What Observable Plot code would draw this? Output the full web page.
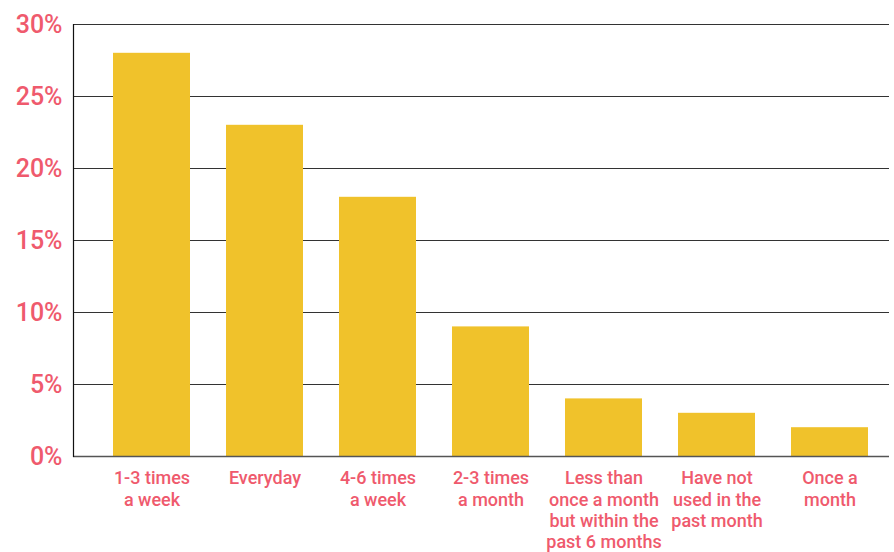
<!DOCTYPE html>
<html>
<head>
<meta charset="utf-8">
<script src="https://cdn.jsdelivr.net/npm/d3@7"></script>
<script src="https://cdn.jsdelivr.net/npm/@observablehq/plot@0.6"></script>
<style>
  html, body { margin: 0; padding: 0; background: #fff; }
  #chart { width: 894px; height: 552px; overflow: hidden; }
</style>
</head>
<body>
<div id="chart"></div>
<script>
const categories = [
  "1-3 times\na week",
  "Everyday",
  "4-6 times\na week",
  "2-3 times\na month",
  "Less than\nonce a month\nbut within the\npast 6 months",
  "Have not\nused in the\npast month",
  "Once a\nmonth"
];
const values = [28, 23, 18, 9, 4, 3, 2];
const yTicks = [0, 5, 10, 15, 20, 25, 30];

const data = categories.map((c, i) => ({category: c, value: values[i]}));

const pink = "#ef5a6d";
const chart = Plot.plot({
  width: 894,
  height: 552,
  marginLeft: 73,
  marginRight: 5,
  marginTop: 24,
  marginBottom: 96,
  style: {fontFamily: "Roboto, sans-serif", background: "#fff", overflow: "visible"},
  x: {domain: categories, paddingInner: 0.32, paddingOuter: 0.26, align: 0.66, label: null},
  y: {domain: [0, 30], label: null},
  marks: [
    Plot.ruleY(yTicks.filter(d => d > 0), {stroke: "#333", strokeWidth: 1.2}),
    Plot.barY(data, {x: "category", y: "value", fill: "#f0c22b"}),
    Plot.ruleY([0], {stroke: "#555", strokeWidth: 1.5}),
    Plot.frame({anchor: "left", stroke: "#111", strokeWidth: 1.2}),
    Plot.axisY({ticks: yTicks, tickSize: 0, tickPadding: 11, tickFormat: d => d + "%", fontSize: 25, fill: pink, fontWeight: 500, label: null}),
    Plot.axisX({tickSize: 0, tickPadding: 13, fontSize: 18, lineHeight: 1.17, fill: pink, fontWeight: 500, label: null})
  ]
});
document.getElementById("chart").appendChild(chart);
</script>
</body>
</html>
